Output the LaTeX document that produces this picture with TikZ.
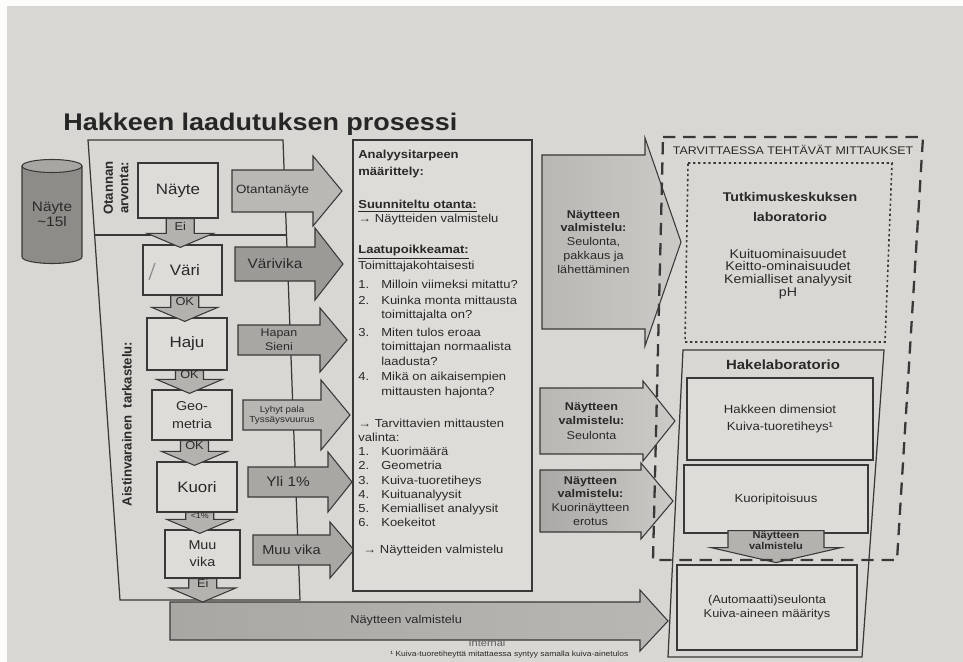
\documentclass[tikz,border=0pt]{standalone}
\usepackage{fontspec}
\setmainfont{Liberation Sans}[FakeStretch=1.12]
\newfontfamily\plainsf{Liberation Sans}
\usetikzlibrary{calc}
\newcommand{\fsz}[2]{\fontsize{#1}{#2}\selectfont}
\definecolor{paper}{HTML}{D9D7D3}
\definecolor{boxfill}{HTML}{DEDCD8}
\definecolor{ink}{HTML}{3A3836}
\definecolor{txt}{HTML}{2B2927}
\definecolor{arS}{HTML}{B4B2AF}
\definecolor{arL}{HTML}{BAB8B5}
\definecolor{arM}{HTML}{A9A7A4}
\definecolor{arD}{HTML}{9C9A97}
\definecolor{arR1}{HTML}{B9B7B4}
\definecolor{arR2}{HTML}{CCCAC7}
\definecolor{cylbody}{HTML}{8E8C89}
\definecolor{cyltop}{HTML}{A8A6A3}
\def\lblfont{}
\tikzset{
  frame/.style={draw=ink, line width=0.7pt},
  box/.style={draw=ink, line width=0.7pt, fill=boxfill, inner sep=1pt, align=center, font=\fsz{8.6}{9.5}},
  barrow/.style={draw=ink, line width=0.6pt, line join=miter},
  lbl/.style={inner sep=0, align=center},
  lblfont/.store in=\lblfont,
}
% #1 style (with lblfont=...), #2 name, #3 x0, #4 x head, #5 x tip, #6 y mid, #7 shaft half, #8 head half, #9 label
\newcommand{\rarrow}[9]{%
  \draw[barrow,#1] (#3,{#6-#7}) -- (#4,{#6-#7}) -- (#4,{#6-#8}) -- (#5,#6) -- (#4,{#6+#8}) -- (#4,{#6+#7}) -- (#3,{#6+#7}) -- cycle
    ({(#3+#4)/2},#6) node[lbl, font=\lblfont, text=txt] (#2) {#9};}
% #1 start, #2 end, #3 name, #4 label
\newcommand{\darrow}[4]{%
  \draw[barrow, fill=arS] let \p1=#1, \p2=#2, \n1={(\x1+\x2)/2} in
    ({\n1*1pt-0.28cm},\y1) -- ({\n1*1pt-0.28cm},{\y2+0.28cm}) -- ({\n1*1pt-0.66cm},{\y2+0.28cm})
    -- ({\n1*1pt},\y2) -- ({\n1*1pt+0.66cm},{\y2+0.28cm}) -- ({\n1*1pt+0.28cm},{\y2+0.28cm})
    -- ({\n1*1pt+0.28cm},\y1) -- cycle
    ({\n1*1pt},{(\y1+\y2+0.28cm)/2}) node[font=\fsz{6.5}{7}, inner sep=0, text=txt] (#3) {#4};}
\begin{document}
\begin{tikzpicture}[x=0.02cm, y=-0.02cm, every node/.style={text=txt}]
\useasboundingbox (0,0) rectangle (963,662);
\fill[paper] (0,0) rectangle (963,662);
\fill[white!94!paper] (0,0) rectangle (963,6);
\fill[white!94!paper] (0,0) rectangle (7,662);

% title
\node[anchor=west, inner sep=0, font=\bfseries\fsz{13.7}{15}, text=black!85] (title) at (63,124) {Hakkeen laadutuksen prosessi};

% sample cylinder
\fill[cylbody] (22,166) -- (22,257) arc[start angle=180, end angle=360, x radius=0.6cm, y radius=0.13cm] -- (82,166) -- cycle;
\draw[ink, line width=0.6pt] (22,166) -- (22,257) arc[start angle=180, end angle=360, x radius=0.6cm, y radius=0.13cm] -- (82,166);
\draw[ink, line width=0.6pt, fill=cyltop] (52,166) ellipse [x radius=0.6cm, y radius=0.13cm];
\node[lbl, font=\fsz{7.8}{8.6}] (cyl) at (52,214) {Näyte\\\textasciitilde15l};

% left frame
\draw[frame] (88,140) -- (283,140) -- (300,600) -- (120,600) -- cycle;
\draw[ink, line width=1pt] (94.6,235) -- (286.5,235);
\node[lbl, rotate=90, font=\plainsf\bfseries\fsz{7.5}{8.8}] (otannan) at (116,188) {Otannan\\arvonta:};
\node[lbl, rotate=90, font=\plainsf\bfseries\fsz{7.5}{8.8}] (aistin) at (127,424) {Aistinvarainen\ \ tarkastelu:};

% left column boxes
\node[box, minimum width=1.6cm, minimum height=1.1cm] (naayte) at (178,190.5) {Näyte};
\node[box, minimum width=1.58cm, minimum height=1.0cm] (vari) at (182.5,270) {\ Väri};
\draw[black!45, line width=0.7pt] (149,280) -- (155,263);
\node[box, minimum width=1.6cm, minimum height=1.04cm] (haju) at (187,344) {Haju};
\node[box, minimum width=1.6cm, minimum height=1.0cm, font=\fsz{7.3}{10}] (geo) at (192,415) {Geo-\\metria};
\node[box, minimum width=1.6cm, minimum height=1.0cm] (kuori) at (197,487) {Kuori};
\node[box, minimum width=1.5cm, minimum height=0.96cm, font=\fsz{7.3}{9.6}] (muu) at (202.5,554) {Muu\\vika};
\coordinate (eiend) at (203,602);

% bottom long arrow
\draw[barrow, left color=arM, right color=arR1] (170,602) -- (640,602) -- (640,590) -- (668,621) -- (640,651) -- (640,640) -- (170,640) -- cycle;
\node[anchor=west, inner sep=0, font=\fsz{6.5}{8}] (nvbot) at (350,621) {Näytteen valmistelu};

% down arrows
\darrow{(naayte.south)}{([yshift=-0.06cm]vari.north)}{ei1}{Ei}
\darrow{(vari.south)}{([yshift=-0.08cm]haju.north)}{ok1}{OK}
\darrow{(haju.south)}{([yshift=-0.08cm]geo.north)}{ok2}{OK}
\darrow{(geo.south)}{([yshift=-0.08cm]kuori.north)}{ok3}{OK}
\darrow{(kuori.south)}{([yshift=-0.08cm]muu.north)}{lt1}{\fsz{4.5}{5}\textless1\%}
\darrow{(muu.south)}{(eiend)}{ei2}{Ei}

% arrows from the left column
\rarrow{fill=arL, lblfont=\fsz{6.8}{8}}{otant}{232}{313}{342}{191}{21}{35}{Otantanäyte}
\rarrow{fill=arD, lblfont=\fsz{7.8}{9}}{varivika}{235}{315}{343}{264}{17}{36}{Värivika}
\rarrow{fill=arM, lblfont=\fsz{6.3}{7.9}}{hapan}{238}{320}{347}{340}{15}{32}{Hapan\\Sieni}
\rarrow{fill=arL!90!arM, lblfont=\fsz{5.0}{5.7}}{lyhyt}{243}{321}{350}{415}{15}{35}{Lyhyt pala\\Tyssäysvuurus}
\rarrow{fill=arM, lblfont=\fsz{7.8}{9}}{yli}{248}{328}{352}{482}{15}{30}{Yli 1\%}
\rarrow{fill=arM, lblfont=\fsz{7.4}{9}}{muuvika}{253}{330}{354}{550}{15}{28}{Muu vika}

% middle text box
\node[draw=ink, line width=0.7pt, fill=boxfill, minimum width=3.58cm, minimum height=9.02cm, inner sep=0] (mbox) at (442.5,365.5) {};
\node[anchor=north west, inner sep=0, align=left, font=\bfseries\fsz{6.6}{9.6}] (mhead) at (358,150) {Analyysitarpeen\\määrittely:};
\node[anchor=north west, inner sep=0, align=left, font=\fsz{6.6}{7.9}] (mbody) at (358,200) {%
\textbf{\underline{Suunniteltu otanta:}}\\
→ Näytteiden valmistelu\\[9.7pt]
\textbf{\underline{Laatupoikkeamat:}}\\
Toimittajakohtaisesti\\[2.9pt]
\makebox[4.6mm][l]{1.}Milloin viimeksi mitattu?\\[1.2pt]
\makebox[4.6mm][l]{2.}Kuinka monta mittausta\\
\hspace*{4.6mm}toimittajalta on?\\[2.3pt]
\makebox[4.6mm][l]{3.}Miten tulos eroaa\\
\hspace*{4.6mm}toimittajan normaalista\\[0.6pt]
\hspace*{4.6mm}laadusta?\\[0.6pt]
\makebox[4.6mm][l]{4.}Mikä on aikaisempien\\[0.6pt]
\hspace*{4.6mm}mittausten hajonta?\\[10.3pt]
→ Tarvittavien mittausten\\[0.6pt]
valinta:\\
\makebox[4.6mm][l]{1.}Kuorimäärä\\
\makebox[4.6mm][l]{2.}Geometria\\[0.5pt]
\makebox[4.6mm][l]{3.}Kuiva-tuoretiheys\\
\makebox[4.6mm][l]{4.}Kuituanalyysit\\
\makebox[4.6mm][l]{5.}Kemialliset analyysit\\
\makebox[4.6mm][l]{6.}Koekeitot\\[7.5pt]
\hspace*{1mm}→ Näytteiden valmistelu};

% arrows to the laboratories
\rarrow{left color=arR1, right color=arR2, lblfont=\fsz{6.4}{7.9}}{nvA}{542}{645}{681}{242}{87}{104}{\textbf{Näytteen}\\\textbf{valmistelu:}\\Seulonta,\\pakkaus ja\\lähettäminen}
\rarrow{left color=arR1, right color=arR2, lblfont=\fsz{6.4}{8.2}}{nvB}{540}{643}{675}{421}{33}{40}{\textbf{Näytteen}\\\textbf{valmistelu:}\\Seulonta}
\rarrow{left color=arR1!92!black, right color=arR2, lblfont=\fsz{6.4}{7.8}}{nvC}{540}{641}{673}{501}{31}{38}{\textbf{Näytteen}\\\textbf{valmistelu:}\\Kuorinäytteen\\erotus}

% research centre laboratory (dotted)
\draw[ink, line width=0.9pt, dash pattern=on 1.3pt off 1.6pt] (688,163) -- (892,163) -- (885,342) -- (685,342) -- cycle;
\node[lbl, font=\bfseries\fsz{7.2}{11.3}] (tutk) at (790,207) {Tutkimuskeskuksen\\laboratorio};
\node[lbl, font=\fsz{7.2}{7.3}] (tutkb) at (788,274) {Kuituominaisuudet\\Keitto-ominaisuudet\\Kemialliset analyysit\\pH};

% chip laboratory
\draw[frame] (683,350) -- (884,350) -- (862,657) -- (668,657) -- cycle;
\node[lbl, font=\bfseries\fsz{7.6}{9}] (hlab) at (783,365) {Hakelaboratorio};
\node[box, minimum width=3.72cm, minimum height=1.64cm, font=\fsz{6.7}{9.5}] (hdim) at (780,419) {Hakkeen dimensiot\\Kuiva-tuoretiheys¹};
\node[box, minimum width=3.68cm, minimum height=1.36cm, font=\fsz{6.7}{9.5}] (kuorip) at (776,499) {Kuoripitoisuus};
\node[box, minimum width=3.6cm, minimum height=1.7cm, font=\fsz{6.5}{8.2}] (autom) at (767,607.5) {(Automaatti)seulonta\\Kuiva-aineen määritys};
\draw[barrow, fill=arS] ($(kuorip.south)+(-48,-3)$) -- ++(0,17) -- ++(-17,0) -- ++(65,15) -- ++(65,-15) -- ++(-17,0) -- ++(0,-17) -- cycle;
\node[lbl, font=\bfseries\fsz{5.6}{6.6}] (nvsmall) at ($(kuorip.south)+(0,7)$) {Näytteen\\valmistelu};

% dashed frame of optional measurements
\draw[ink, line width=1.3pt, dash pattern=on 7pt off 4.5pt] (663,137) -- (923,137) -- (897,560) -- (653,560) -- cycle;
\node[lbl, font=\fsz{6.3}{7}] (tarv) at (793,150) {TARVITTAESSA TEHTÄVÄT MITTAUKSET};

% footer
\node[lbl, font=\fsz{5.6}{6}, text=txt!75] (intl) at (487,643) {Internal};
\node[anchor=west, inner sep=0, font=\fsz{4.3}{5}] (foot) at (390,655) {¹ Kuiva-tuoretiheyttä mitattaessa syntyy samalla kuiva-ainetulos};
\end{tikzpicture}
\end{document}
